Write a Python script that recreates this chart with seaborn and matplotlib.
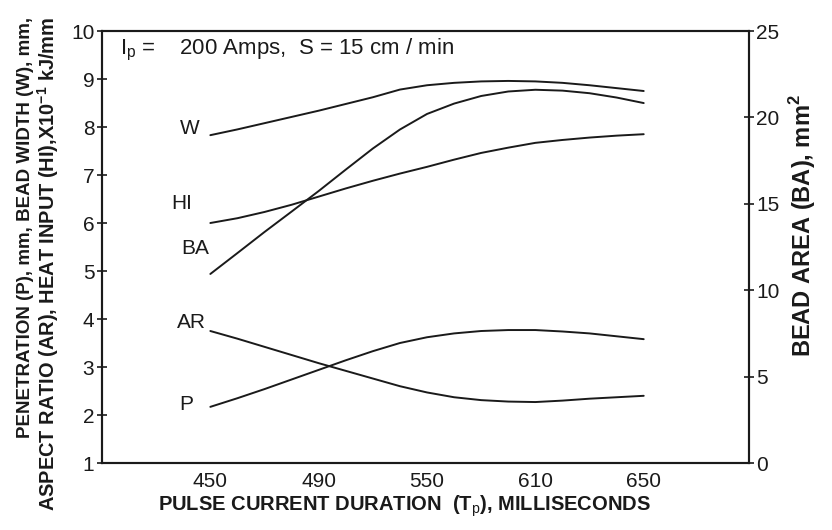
import matplotlib
matplotlib.use("Agg")
import matplotlib.pyplot as plt
import seaborn as sns
import pandas as pd

# positions along the (evenly spaced) duration axis, read at quarter-steps
pos = [0, 0.25, 0.5, 0.75, 1, 1.25, 1.5, 1.75, 2, 2.25, 2.5, 2.75, 3, 3.25, 3.5, 3.75, 4]
tick_pos = [0, 1, 2, 3, 4]
tick_labels = ["450", "490", "550", "610", "650"]

W = [7.83, 7.95, 8.08, 8.21, 8.34, 8.48, 8.62, 8.78, 8.87, 8.92, 8.95, 8.96, 8.95, 8.92, 8.87, 8.81, 8.75]
HI = [6.00, 6.10, 6.23, 6.38, 6.55, 6.72, 6.88, 7.03, 7.17, 7.32, 7.46, 7.57, 7.67, 7.73, 7.78, 7.82, 7.85]
AR = [3.75, 3.59, 3.42, 3.25, 3.08, 2.92, 2.76, 2.60, 2.47, 2.37, 2.31, 2.28, 2.27, 2.30, 2.34, 2.37, 2.40]
P = [2.17, 2.35, 2.54, 2.74, 2.94, 3.14, 3.33, 3.50, 3.62, 3.70, 3.75, 3.77, 3.77, 3.74, 3.70, 3.64, 3.58]
BA = [10.94, 12.15, 13.37, 14.55, 15.74, 16.98, 18.20, 19.30, 20.20, 20.80, 21.24, 21.50, 21.60, 21.55, 21.40, 21.15, 20.83]

sns.set_style("white")
plt.rcParams['font.family'] = ['Liberation Sans', 'DejaVu Sans']
plt.rcParams['mathtext.fontset'] = 'custom'
plt.rcParams['mathtext.rm'] = 'Liberation Sans'
plt.rcParams['mathtext.bf'] = 'Liberation Sans:bold'

INK = "#1a1a1a"
fig = plt.figure(figsize=(8.32, 5.30), dpi=100)
ax = fig.add_axes([0.1226, 0.1264, 0.7774, 0.8151])
ax2 = ax.twinx()

lw = 1.4
for series in (W, HI, AR, P):
    df = pd.DataFrame({"x": pos, "y": series})
    sns.lineplot(data=df, x="x", y="y", ax=ax, color=INK, linewidth=lw)
df_ba = pd.DataFrame({"x": pos, "y": BA})
sns.lineplot(data=df_ba, x="x", y="y", ax=ax2, color=INK, linewidth=lw)

ax.set_xlim(-1.0, 4.97)
ax.set_ylim(1, 10)
ax2.set_ylim(0, 25)
ax.set_xticks(tick_pos)
ax.set_xticklabels(tick_labels)
ax.set_yticks(range(1, 11))
ax2.set_yticks(range(0, 26, 5))

for a in (ax, ax2):
    for s in a.spines.values():
        s.set_visible(True)
        s.set_color(INK)
        s.set_linewidth(1.5)
ax.tick_params(axis='both', direction='inout', length=7, width=1.2,
               labelsize=15, colors=INK, pad=2)
ax.tick_params(axis='x', pad=3)
ax2.tick_params(axis='y', direction='inout', length=7, width=1.2,
                labelsize=15, colors=INK, pad=2)

ax.set_xlabel("PULSE CURRENT DURATION  (T$_\\mathrm{p}$), MILLISECONDS",
              fontsize=14.5, fontweight='bold', color=INK)
ax.xaxis.set_label_coords(0.468, -0.070)
ax.set_ylabel("")
ax2.set_ylabel("")

fig.text(0.031, 0.570, "PENETRATION (P), mm, BEAD WIDTH (W), mm,",
         rotation=90, fontsize=13.5, fontweight='bold', color=INK,
         ha='center', va='center')
fig.text(0.0577, 0.503,
         "ASPECT RATIO (AR), HEAT INPUT (HI),X10$^{\\mathbf{-1}}$ kJ/mm",
         rotation=90, fontsize=14.4, fontweight='bold', color=INK,
         ha='center', va='center')
fig.text(0.965, 0.575, "BEAD AREA (BA), mm$^{\\mathbf{2}}$", rotation=90,
         fontsize=17, fontweight='bold', color=INK, ha='center', va='center')

labels = [("W", -0.19, 7.96), ("HI", -0.26, 6.40), ("BA", -0.14, 5.46),
          ("AR", -0.17, 3.92), ("P", -0.22, 2.21)]
for t, x, y in labels:
    ax.text(x, y, t, fontsize=15, color=INK, ha='center', va='center')

ax.text(-0.83, 9.6, "I$_\\mathrm{p}$ =    200 Amps,  S = 15 cm / min",
        fontsize=16, color=INK, ha='left', va='center')

ax.set_zorder(ax2.get_zorder() + 1)
ax.patch.set_visible(False)

fig.savefig("out.png", dpi=100)
